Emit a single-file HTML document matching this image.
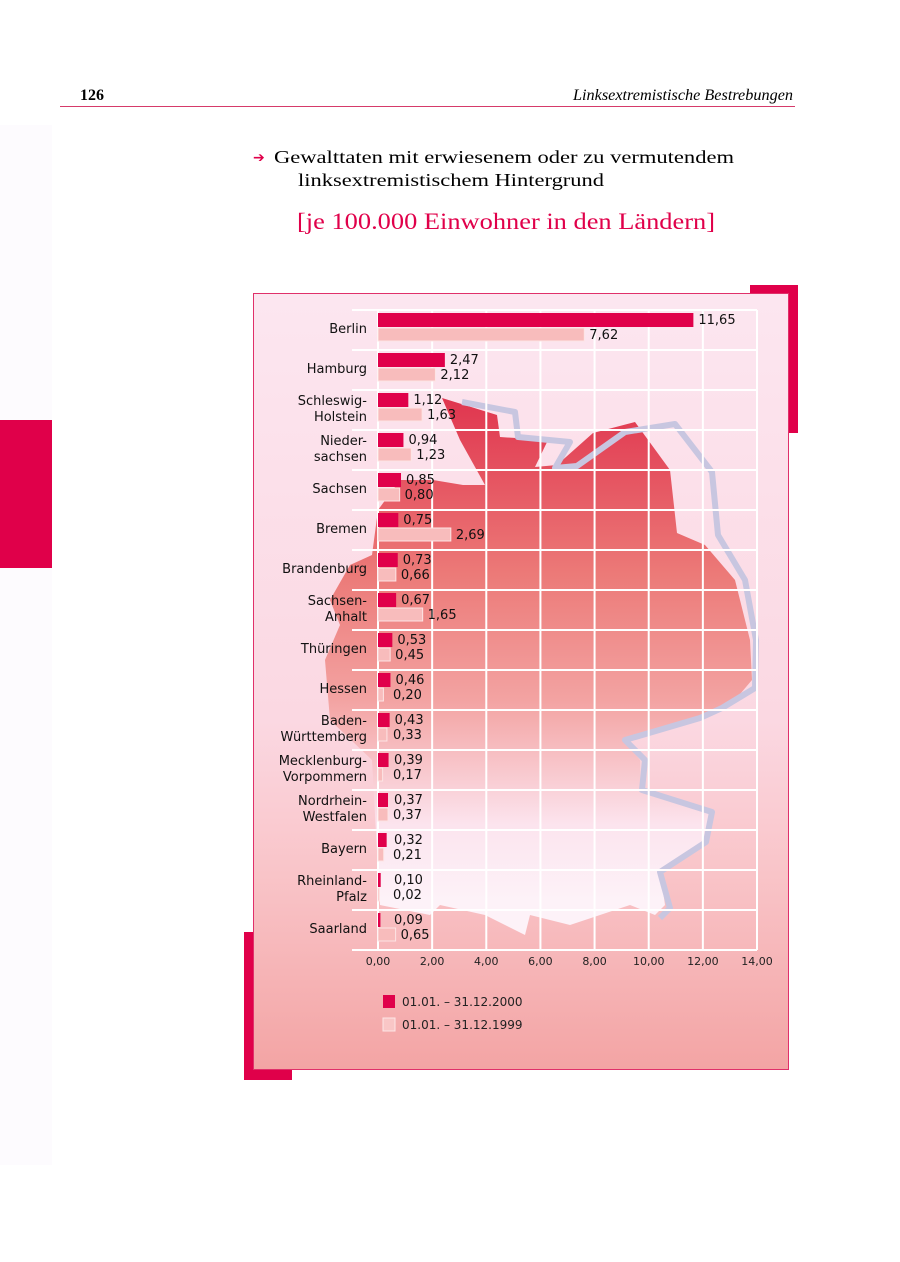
<!DOCTYPE html>
<html><head><meta charset="utf-8"><style>
html,body{margin:0;padding:0;background:#fff;}
svg{display:block;}
</style></head><body>
<svg id="page" width="900" height="1262" viewBox="0 0 900 1262" xmlns="http://www.w3.org/2000/svg">
<defs>
<linearGradient id="bg" x1="0" y1="0" x2="0" y2="1">
<stop offset="0" stop-color="#fce6f0"/><stop offset="0.55" stop-color="#fbd8e2"/><stop offset="0.75" stop-color="#f9c4c8"/><stop offset="1" stop-color="#f3a4a4"/>
</linearGradient>
<linearGradient id="mapg" gradientUnits="userSpaceOnUse" x1="0" y1="400" x2="0" y2="900">
<stop offset="0" stop-color="#e0364f"/><stop offset="0.35" stop-color="#ec7a78"/><stop offset="0.6" stop-color="#f3a3a2"/><stop offset="0.85" stop-color="#fce4ee"/><stop offset="1" stop-color="#fdf2f8"/>
</linearGradient>
</defs>
<rect x="0" y="125" width="52" height="1040" fill="#fdfbfe"/>
<rect x="0" y="420" width="52" height="148" fill="#e0004a"/>
<text x="80" y="100" font-family="Liberation Serif, serif" font-weight="bold" font-size="16">126</text>
<text x="793" y="100" text-anchor="end" font-family="Liberation Serif, serif" font-style="italic" font-size="16" textLength="220" lengthAdjust="spacingAndGlyphs">Linksextremistische Bestrebungen</text>
<line x1="60" y1="106.5" x2="795" y2="106.5" stroke="#d63a6a" stroke-width="1"/>
<text x="253" y="162" fill="#e0004a" font-family="DejaVu Sans, sans-serif" font-size="14">➔</text>
<text x="274" y="163" font-family="Liberation Serif, serif" font-size="18" textLength="460" lengthAdjust="spacingAndGlyphs">Gewalttaten mit erwiesenem oder zu vermutendem</text>
<text x="298" y="186" font-family="Liberation Serif, serif" font-size="18" textLength="306" lengthAdjust="spacingAndGlyphs">linksextremistischem Hintergrund</text>
<text x="297" y="229" fill="#e0004a" font-family="Liberation Serif, serif" font-size="23" textLength="418" lengthAdjust="spacingAndGlyphs">[je 100.000 Einwohner in den Ländern]</text>

<rect x="750" y="285" width="48" height="148" fill="#e0004a"/>
<rect x="244" y="932" width="48" height="148" fill="#e0004a"/>
<rect x="253.5" y="293.5" width="535" height="776" fill="url(#bg)" stroke="#e0306a" stroke-width="1"/>

<polygon fill="url(#mapg)" stroke="none" points="442,398 497,415 500,437 548,440 535,467 557,465 593,433 635,422 670,470 677,533 705,545 735,580 750,640 752,680 735,700 700,720 625,740 640,760 640,790 710,810 705,840 660,870 665,905 655,915 630,905 570,925 530,915 525,935 485,915 440,905 430,915 380,905 372,760 330,720 325,660 340,625 330,600 350,565 372,555 378,510 400,480 433,480 463,485 485,485 460,440"/>
<polyline fill="none" stroke="#c8c6e0" stroke-width="6" stroke-linejoin="round" points="462,402 515,412 518,437 570,442 555,468 577,466 625,432 675,424 712,472 718,535 745,580 756,640 755,688 722,708 700,718 625,740 645,760 642,790 712,812 706,842 660,872 670,908 660,918"/>
<g id="grid"></g>
<g id="bars"></g>
<g id="labels"></g>
<g id="legend">
<rect x="383" y="995" width="12" height="13" fill="#e0004a"/>
<text x="402" y="1006" font-family="DejaVu Sans, sans-serif" font-size="12" fill="#222">01.01. – 31.12.2000</text>
<rect x="383" y="1018" width="12" height="13" fill="#f9c6c6" stroke="#fde6e6"/>
<text x="402" y="1029" font-family="DejaVu Sans, sans-serif" font-size="12" fill="#222">01.01. – 31.12.1999</text>
</g>
</svg>
<script>
const states = [["Berlin"],["Hamburg"],["Schleswig-","Holstein"],["Nieder-","sachsen"],["Sachsen"],["Bremen"],["Brandenburg"],["Sachsen-","Anhalt"],["Thüringen"],["Hessen"],["Baden-","Württemberg"],["Mecklenburg-","Vorpommern"],["Nordrhein-","Westfalen"],["Bayern"],["Rheinland-","Pfalz"],["Saarland"]];
const values2000 = [11.65,2.47,1.12,0.94,0.85,0.75,0.73,0.67,0.53,0.46,0.43,0.39,0.37,0.32,0.10,0.09];
const values1999 = [7.62,2.12,1.63,1.23,0.80,2.69,0.66,1.65,0.45,0.20,0.33,0.17,0.37,0.21,0.02,0.65];
const xTicks = [0,2,4,6,8,10,12,14];
const tickLabels = ["0,00","2,00","4,00","6,00","8,00","10,00","12,00","14,00"];

const NS="http://www.w3.org/2000/svg";
const X0=378, X1=757, XMAX=14, Y0=310, ROW=40;
function xs(v){return X0+(v/XMAX)*(X1-X0);}
function ys(i){return Y0+i*ROW;}
function mk(tag,attrs,parent){const e=document.createElementNS(NS,tag);for(const k in attrs)e.setAttribute(k,attrs[k]);parent.appendChild(e);return e;}
function fmt(v){return v.toFixed(2).replace('.',',');}
const grid=document.getElementById('grid'),bars=document.getElementById('bars'),labels=document.getElementById('labels');
xTicks.forEach((t,i)=>{
  const l=mk('line',{x1:xs(t),x2:xs(t),y1:Y0,y2:ys(states.length),stroke:'#ffffff','stroke-width':2},grid);
  
  
  const tx=mk('text',{x:xs(t),y:ys(states.length)+15,'text-anchor':'middle','font-family':'DejaVu Sans, sans-serif','font-size':11,fill:'#222'},labels);
  tx.textContent=tickLabels[i];
  
  
});
for(let i=0;i<=states.length;i++){
  const l=mk('line',{x1:352,x2:X1,y1:ys(i),y2:ys(i),stroke:'#ffffff','stroke-width':2},grid);
  
  
}
states.forEach((s,i)=>{
  const y=ys(i);
  const b1=mk('rect',{x:X0,y:y+3,width:Math.max(xs(values2000[i])-X0,1.5),height:14,fill:'#e0004a'},bars);
  
  
  const b2=mk('rect',{x:X0,y:y+18,width:Math.max(xs(values1999[i])-X0,1.5),height:13,fill:'#f8bcbc',stroke:'#fde4e4','stroke-width':1},bars);
  
  
  const v1=mk('text',{x:Math.max(xs(values2000[i])+5,394),y:y+14,'font-family':'DejaVu Sans, sans-serif','font-size':13,fill:'#111'},labels);
  v1.textContent=fmt(values2000[i]);
  
  
  const v2=mk('text',{x:Math.max(xs(values1999[i])+5,393),y:y+29,'font-family':'DejaVu Sans, sans-serif','font-size':13,fill:'#111'},labels);
  v2.textContent=fmt(values1999[i]);
  
  
  if(s.length===1){
    const t=mk('text',{x:367,y:y+23,'text-anchor':'end','font-family':'DejaVu Sans, sans-serif','font-size':13,fill:'#111'},labels);
    t.textContent=s[0];
    
    
  } else {
    s.forEach((part,j)=>{
      const t=mk('text',{x:367,y:y+15+j*16,'text-anchor':'end','font-family':'DejaVu Sans, sans-serif','font-size':13,fill:'#111'},labels);
      t.textContent=part;
      
      
    });
  }
});
</script>
</body></html>
